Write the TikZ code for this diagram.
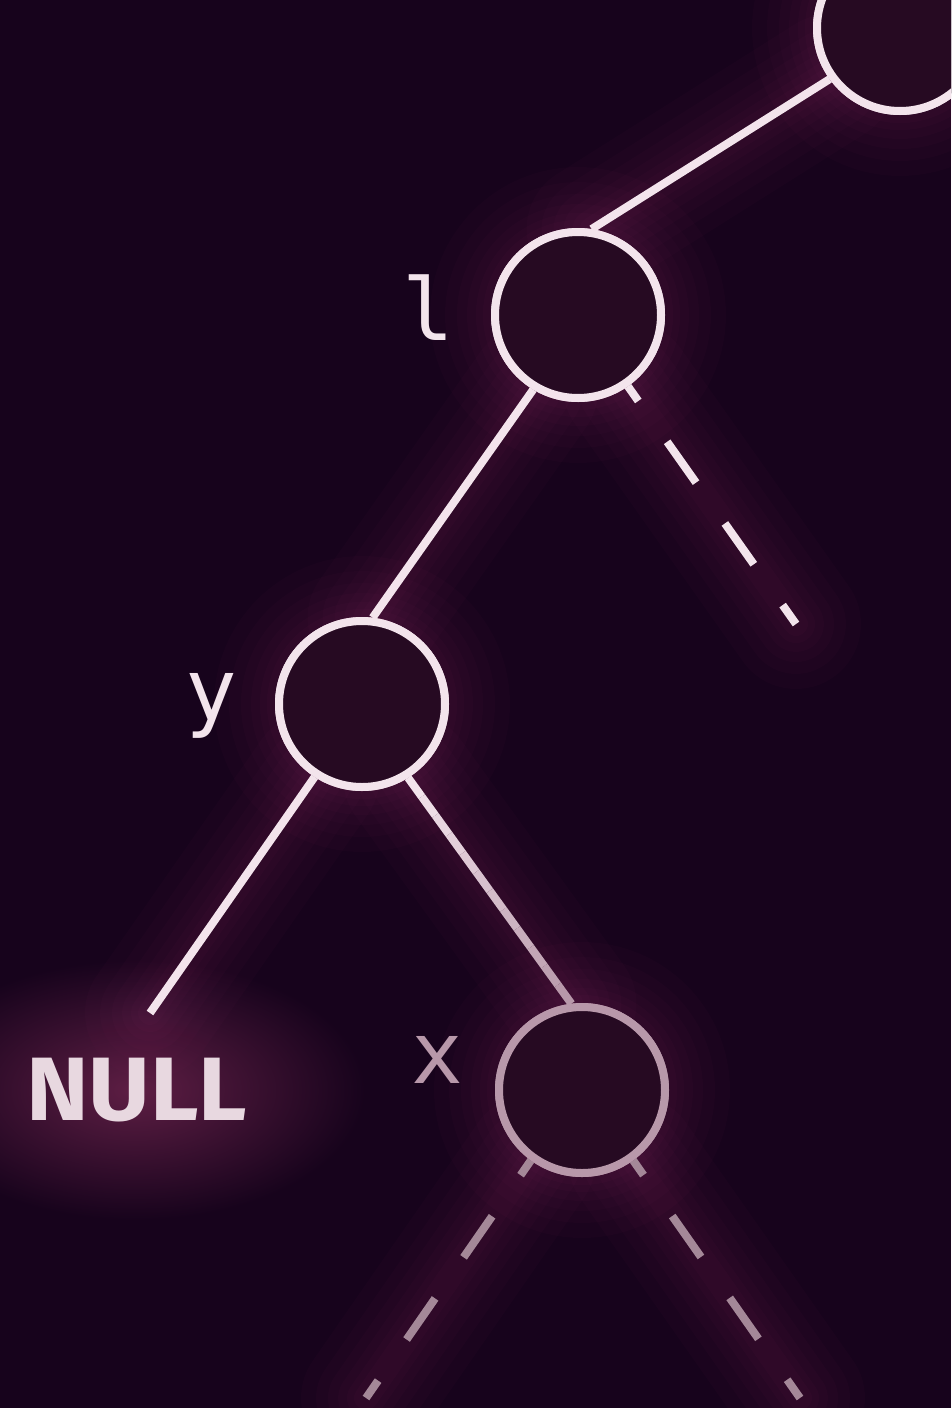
\documentclass[tikz,border=0pt]{standalone}
\usepackage{fontspec}
\newfontfamily\labelfont{DejaVu Sans Mono}
\newfontfamily\nulltextfont{Fira Sans}
\usetikzlibrary{calc}
\definecolor{bg}{HTML}{17031C}
\definecolor{inner}{HTML}{260A22}
\definecolor{lc}{HTML}{F3E4EC}
\definecolor{dim}{HTML}{B898AA}
\definecolor{dimd}{HTML}{A48898}
\definecolor{glowc}{HTML}{A03070}
\definecolor{nullglow}{HTML}{5E1E44}
\definecolor{nullc}{HTML}{E8D8E0}
\tikzset{
  glow/.style={
    preaction={draw=glowc,solid,line width=130pt,draw opacity=0.03,line cap=round},
    preaction={draw=glowc,solid,line width=100pt,draw opacity=0.03,line cap=round},
    preaction={draw=glowc,solid,line width=76pt,draw opacity=0.035,line cap=round},
    preaction={draw=glowc,solid,line width=56pt,draw opacity=0.035,line cap=round},
    preaction={draw=glowc,solid,line width=38pt,draw opacity=0.04,line cap=round},
    preaction={draw=glowc,solid,line width=24pt,draw opacity=0.04,line cap=round}},
  treenode/.style={circle,draw=lc,line width=8pt,minimum size=166pt,inner sep=0pt,fill=inner,glow},
  dimnode/.style={treenode,draw=dim},
  plaincircle/.style={circle,draw=lc,line width=8pt,minimum size=166pt,inner sep=0pt,fill=inner},
  edge/.style={draw=lc,line width=8pt,glow},
  dimedge/.style={draw=dimd,line width=8pt,dash pattern=on 50pt off 50pt,dash phase=32pt,glow},
  lbl/.style={font=\labelfont\fontsize{86}{86}\selectfont,text=lc,anchor=base,inner sep=0pt}
}
\begin{document}
\begin{tikzpicture}[x=1pt,y=-1pt]
\fill[bg] (0,0) rectangle (951,1408);
\useasboundingbox (0,0) rectangle (951,1408);
\clip (0,0) rectangle (951,1408);
% glow behind NULL
\shade[inner color=nullglow,outer color=bg] (135,1090) ellipse (230 and 130);
% coordinates for free ends
\coordinate (lend) at (796,624);
\coordinate (nullend) at (150,1013);
\coordinate (xlend) at (366,1398);
\coordinate (xrend) at (800,1398);
% nodes (placed first for anchors; redrawn after edges)
\node[treenode] (top) at (900,28) {};
\node[treenode] (l) at (578,315) {};
\node[treenode] (y) at (362,704) {};
\node[dimnode] (x) at (582,1090) {};
% edges
\draw[edge] (top.216) -- (l.81);
\draw[edge] (l.239) -- (y.83);
\draw[edge,dash pattern=on 50pt off 50pt,dash phase=32pt] (l.305) -- (lend);
\draw[edge] (y.237) -- (nullend);
\path[glow] (y.302) -- (x.97);
\foreach \i in {0,...,11}{
  \pgfmathsetmacro{\pa}{\i/12}
  \pgfmathsetmacro{\pb}{(\i+1)/12}
  \pgfmathsetmacro{\pc}{100-\i*100/11}
  \draw[line width=8pt,draw=lc!\pc!dim] ($(y.302)!\pa!(x.97)$) -- ($(y.302)!\pb!(x.97)$);
}
\draw[dimedge] (x.234) -- (xlend);
\draw[dimedge] (x.306) -- (xrend);
% redraw circles on top
\node[plaincircle] at (top) {};
\node[plaincircle] at (l) {};
\node[plaincircle] at (y) {};
\node[plaincircle,draw=dim] at (x) {};
% labels
\node[lbl] (ll) at (428,340) {l};
\node[lbl] (yl) at (211,720) {y};
\node[lbl,text=dim] (xl) at (437,1083) {x};
\node[font=\nulltextfont\bfseries\fontsize{90}{90}\selectfont,text=nullc,anchor=base west,inner sep=0pt,xscale=1.05] (nl) at (26,1120) {NULL};
\end{tikzpicture}
\end{document}
